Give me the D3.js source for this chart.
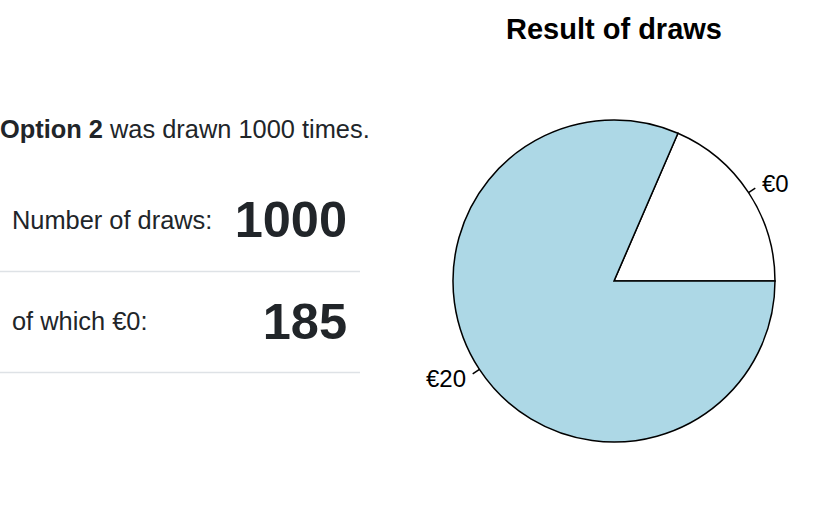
<!DOCTYPE html>
<html>
<head>
<meta charset="utf-8">
<script src="https://cdn.jsdelivr.net/npm/d3@7"></script>
<style>
  body { margin: 0; background: #fff; }
  svg text { font-family: "Liberation Sans", Arial, sans-serif; }
</style>
</head>
<body>
<div id="chart"></div>
<script>
const option = 'Option 2';
const totalDraws = 1000;
const categories = ['€0', '€20'];
const counts = [185, 815];
const colors = ['#ffffff', '#add8e6'];
const title = 'Result of draws';

const width = 831;
const height = 506;

const svg = d3.select('#chart').append('svg')
  .attr('width', width)
  .attr('height', height);

// left summary panel
const info = svg.append('g').attr('fill', '#212529');

const head = info.append('text')
  .attr('x', 0)
  .attr('y', 138)
  .style('font-size', '25.4px');
head.append('tspan').attr('font-weight', 'bold').text(option);
head.append('tspan').text(` was drawn ${totalDraws} times.`);

const rows = [
  { label: 'Number of draws:', value: totalDraws, y: 229, vy: 237, line: 271 },
  { label: `of which ${categories[0]}:`, value: counts[0], y: 330, vy: 339, line: 372 },
];

rows.forEach((r) => {
  info.append('text')
    .attr('x', 12)
    .attr('y', r.y)
    .style('font-size', '25.4px')
    .text(r.label);
  info.append('text')
    .attr('x', 347)
    .attr('y', r.vy)
    .attr('text-anchor', 'end')
    .attr('font-weight', 'bold')
    .style('font-size', '50.5px')
    .text(r.value);
  svg.append('line')
    .attr('x1', 0)
    .attr('x2', 360)
    .attr('y1', r.line + 0.5)
    .attr('y2', r.line + 0.5)
    .attr('stroke', '#dee2e6')
    .attr('stroke-width', 1.5);
});

// pie, R style: starts at 3 o'clock, counter-clockwise
const cx = 614;
const cy = 281;
const radius = 161;

svg.append('text')
  .attr('x', cx)
  .attr('y', 39)
  .attr('text-anchor', 'middle')
  .attr('font-weight', 'bold')
  .style('font-size', '29px')
  .text(title);

const pie = d3.pie()
  .sort(null)
  .startAngle(Math.PI / 2)
  .endAngle(Math.PI / 2 - 2 * Math.PI);

const arcs = pie(counts);
const arc = d3.arc().innerRadius(0).outerRadius(radius);

const g = svg.append('g').attr('transform', `translate(${cx},${cy})`);

g.selectAll('path')
  .data(arcs)
  .enter().append('path')
  .attr('d', arc)
  .attr('fill', (d, i) => colors[i])
  .attr('stroke', '#000')
  .attr('stroke-width', 1.5);

const pt = (a, k) => [Math.sin(a) * radius * k, -Math.cos(a) * radius * k];

arcs.forEach((d, i) => {
  const mid = (d.startAngle + d.endAngle) / 2;
  const p1 = pt(mid, 1);
  const p2 = pt(mid, 1.05);
  const p3 = pt(mid, 1.1);
  g.append('line')
    .attr('x1', p1[0]).attr('y1', p1[1])
    .attr('x2', p2[0]).attr('y2', p2[1])
    .attr('stroke', '#000')
    .attr('stroke-width', 1.5);
  g.append('text')
    .attr('x', p3[0])
    .attr('y', p3[1])
    .attr('dy', '0.35em')
    .attr('text-anchor', p3[0] > 0 ? 'start' : 'end')
    .style('font-size', '24px')
    .text(categories[i]);
});
</script>
</body>
</html>
